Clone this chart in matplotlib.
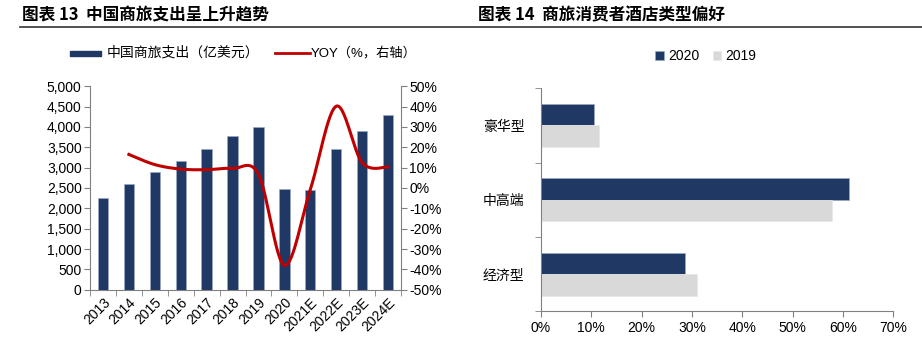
import numpy as np
import matplotlib
matplotlib.use("Agg")
import matplotlib.pyplot as plt
from matplotlib.lines import Line2D
from matplotlib.patches import Rectangle
from matplotlib.ticker import FuncFormatter, FixedLocator

plt.rcParams['font.family'] = ['Liberation Sans', 'Noto Sans CJK SC', 'DejaVu Sans']

# ---------------- data ----------------
years = ['2013', '2014', '2015', '2016', '2017', '2018', '2019', '2020',
         '2021E', '2022E', '2023E', '2024E']
spend = [2250, 2610, 2900, 3170, 3450, 3780, 4000, 2480, 2460, 3450, 3900, 4300]
yoy_years = years[1:]
yoy = [16.5, 11.5, 9.3, 9.0, 9.6, 6.8, -38.0, -0.8, 40.2, 12.5, 10.3]

hotel_types = ['经济型', '中高端', '豪华型']
share_2020 = [28.7, 61.2, 10.6]
share_2019 = [30.9, 57.8, 11.5]

NAVY = '#203864'
GRAY = '#D9D9D9'
RED = '#C00000'
SPINE = '#808080'
CJK = ['Noto Sans CJK SC', 'DejaVu Sans']

fig = plt.figure(figsize=(9.22, 3.45), dpi=100)

# ---------------- titles ----------------
fig.text(22 / 922, 1 - 15 / 345, '图表 13  中国商旅支出呈上升趋势', family=CJK,
         fontsize=12, fontweight='bold', va='center', ha='left')
fig.text(478 / 922, 1 - 15 / 345, '图表 14  商旅消费者酒店类型偏好', family=CJK,
         fontsize=12, fontweight='bold', va='center', ha='left')
fig.add_artist(Line2D([20 / 922, 1.0], [1 - 26.5 / 345] * 2, color='#333333',
                      lw=1.2, transform=fig.transFigure))


def catmull_rom(xs, ys, n=30):
    xs = np.asarray(xs, float)
    ys = np.asarray(ys, float)
    px = np.concatenate([[xs[0]], xs, [xs[-1]]])
    py = np.concatenate([[ys[0]], ys, [ys[-1]]])
    outx, outy = [], []
    for i in range(1, len(px) - 2):
        p0 = np.array([px[i], py[i]])
        p3 = np.array([px[i + 1], py[i + 1]])
        c1 = p0 + (np.array([px[i + 1], py[i + 1]]) - np.array([px[i - 1], py[i - 1]])) / 6
        c2 = p3 - (np.array([px[i + 2], py[i + 2]]) - np.array([px[i], py[i]])) / 6
        t = np.linspace(0, 1, n)[:, None]
        b = ((1 - t) ** 3) * p0 + 3 * ((1 - t) ** 2) * t * c1 + 3 * (1 - t) * t ** 2 * c2 + t ** 3 * p3
        outx.extend(b[:, 0])
        outy.extend(b[:, 1])
    return np.array(outx), np.array(outy)


# ---------------- left chart ----------------
ax1 = fig.add_axes([90 / 922, 1 - 289.7 / 345, 311 / 922, 203.4 / 345])
x = np.arange(len(years))
ax1.bar(x, spend, width=0.4, color=NAVY, edgecolor='#9AA8C4', linewidth=0.5, zorder=2)
ax1.set_xlim(-0.5, len(years) - 0.5)
ax1.set_ylim(0, 5000)
ax1.set_yticks(np.arange(0, 5001, 500))
ax1.yaxis.set_major_formatter(FuncFormatter(lambda v, p: f'{int(v):,}'))
ax1.set_xticks(x)
ax1.set_xticklabels(years, rotation=45, ha='right', rotation_mode='anchor')
ax1.xaxis.set_minor_locator(FixedLocator(np.arange(-0.5, len(years), 1)))
ax1.tick_params(axis='x', which='major', length=0, labelsize=10, pad=4)
ax1.tick_params(axis='x', which='minor', length=4, color=SPINE, direction='out')
ax1.tick_params(axis='y', length=4, color=SPINE, labelsize=10, direction='out', pad=2)
for s in ['top', 'right']:
    ax1.spines[s].set_visible(False)
for s in ['left', 'bottom']:
    ax1.spines[s].set_color(SPINE)

ax1b = ax1.twinx()
xi = np.array([years.index(y) for y in yoy_years])
sx, sy = catmull_rom(xi, yoy)
ax1b.plot(sx, sy, color=RED, lw=2.2, zorder=3)
ax1b.set_ylim(-50, 50)
ax1b.set_yticks(np.arange(-50, 51, 10))
ax1b.yaxis.set_major_formatter(FuncFormatter(lambda v, p: f'{int(v)}%'))
ax1b.tick_params(axis='y', length=4, color=SPINE, labelsize=10, direction='out', pad=2)
for s in ['top', 'left', 'bottom']:
    ax1b.spines[s].set_visible(False)
ax1b.spines['right'].set_color(SPINE)

# legend (left)
ly = 1 - 53 / 345
fig.add_artist(Rectangle((70 / 922, ly - 2.5 / 345), 31 / 922, 5 / 345, color=NAVY,
                         transform=fig.transFigure))
fig.text(107 / 922, ly, '中国商旅支出（亿美元）', family=CJK, fontsize=10, va='center', ha='left')
fig.add_artist(Line2D([275 / 922, 310 / 922], [ly, ly], color=RED, lw=2,
                      transform=fig.transFigure))
fig.text(311 / 922, ly, 'YOY（%，右轴）', family=['Liberation Sans', 'Noto Sans CJK SC'],
         fontsize=9.5, va='center', ha='left')

# ---------------- right chart ----------------
ax2 = fig.add_axes([541 / 922, 1 - 311.3 / 345, 352.3 / 922, 223 / 345])
yy = np.arange(len(hotel_types))
h = 0.29
ax2.barh(yy + h / 2, share_2020, height=h, color=NAVY, edgecolor='#9AA8C4', linewidth=0.5,
         label='2020')
ax2.barh(yy - h / 2, share_2019, height=h, color=GRAY, edgecolor='#E8E8E8', linewidth=0.5,
         label='2019')
ax2.set_xlim(0, 70)
ax2.set_ylim(-0.5, len(hotel_types) - 0.5)
ax2.set_xticks(np.arange(0, 71, 10))
ax2.xaxis.set_major_formatter(FuncFormatter(lambda v, p: f'{int(v)}%'))
ax2.set_yticks(yy)
ax2.set_yticklabels(hotel_types, family=CJK, fontsize=10)
ax2.yaxis.set_minor_locator(FixedLocator(np.arange(-0.5, len(hotel_types), 1)))
ax2.tick_params(axis='y', which='major', length=0, pad=12)
ax2.tick_params(axis='y', which='minor', length=4, color=SPINE, direction='out')
ax2.tick_params(axis='x', length=4, color=SPINE, labelsize=10, direction='out', pad=3)
for s in ['top', 'right']:
    ax2.spines[s].set_visible(False)
for s in ['left', 'bottom']:
    ax2.spines[s].set_color(SPINE)

leg = ax2.legend(loc='center', bbox_to_anchor=(706 / 922, 1 - 56 / 345),
                 bbox_transform=fig.transFigure, ncol=2, frameon=False,
                 handlelength=0.6, handleheight=0.6, handletextpad=0.3,
                 columnspacing=1.0, fontsize=10)

fig.savefig('out.png', dpi=100)
